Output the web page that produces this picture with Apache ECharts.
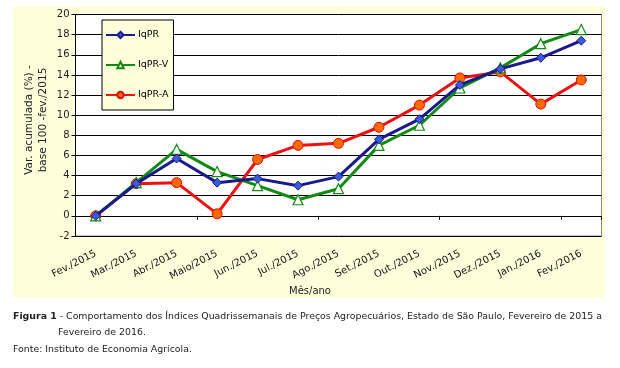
<!DOCTYPE html>
<html><head><meta charset="utf-8">
<script src="https://cdn.jsdelivr.net/npm/echarts@6/dist/echarts.min.js"></script>
<style>html,body{margin:0;padding:0;background:#fff}#c{width:620px;height:368px}</style>
</head><body><div id="c"></div>
<script>
var categories = ['Fev./2015','Mar./2015','Abr./2015','Maio/2015','Jun./2015','Jul./2015','Ago./2015','Set./2015','Out./2015','Nov./2015','Dez./2015','Jan./2016','Fev./2016'];
var iqpr  = [0, 3.2, 5.7, 3.3, 3.7, 3.0, 3.9, 7.6, 9.6, 13.0, 14.6, 15.7, 17.4];
var iqprV = [0, 3.3, 6.6, 4.4, 3.0, 1.6, 2.7, 7.0, 9.0, 12.7, 14.7, 17.1, 18.5];
var iqprA = [0, 3.2, 3.3, 0.2, 5.6, 7.0, 7.2, 8.8, 11.0, 13.7, 14.3, 11.1, 13.5];
var seriesNames = ['IqPR','IqPR-V','IqPR-A'];
var yTicks = {min: -2, max: 20, interval: 2};

var font = 'DejaVu Sans';
var chart = echarts.init(document.getElementById('c'));
chart.setOption({
  animation: false,
  backgroundColor: '#fff',
  textStyle: {fontFamily: font},
  graphic: [
    {type: 'rect', z: -10, shape: {x: 13, y: 6, width: 592, height: 292}, style: {fill: '#FFFFDC'}},
    {type: 'rect', z: -9, shape: {x: 75.5, y: 14.5, width: 526, height: 221.5}, style: {fill: '#fff', stroke: '#8a8a8a', lineWidth: 1}},
    {type: 'text', left: 13, top: 312, style: {
      text: '{b|Figura 1} - Comportamento dos Índices Quadrissemanais de Preços Agropecuários, Estado de São Paulo, Fevereiro de 2015 a',
      font: '9.4px ' + font, fill: '#222',
      rich: {b: {fontWeight: 'bold', fontSize: 9.4, fontFamily: font, fill: '#222'}}}},
    {type: 'text', left: 58, top: 328, style: {text: 'Fevereiro de 2016.', font: '9.4px ' + font, fill: '#222'}},
    {type: 'text', left: 13, top: 345, style: {text: 'Fonte: Instituto de Economia Agrícola.', font: '9.4px ' + font, fill: '#222'}},
    {type: 'text', x: 310, y: 291, style: {text: 'Mês/ano', font: '10px ' + font, fill: '#222', align: 'center', verticalAlign: 'middle'}},
    {type: 'text', x: 36, y: 120, rotation: Math.PI/2, style: {text: 'Var. acumulada (%) -\nbase 100 -fev./2015', font: '10.5px ' + font, fill: '#222', align: 'center', verticalAlign: 'middle', lineHeight: 14}}
  ],
  legend: {
    orient: 'vertical', left: 102, top: 20,
    backgroundColor: '#FFFFDC', borderColor: '#000', borderWidth: 1, borderRadius: 0,
    padding: [10, 5, 10, 3], itemGap: 20, itemWidth: 29, itemHeight: 8,
    textStyle: {fontFamily: font, fontSize: 9.5, color: '#000', padding: [0,0,0,-2]},
    data: seriesNames
  },
  grid: {left: 75.5, right: 18.5, top: 14.5, bottom: 132},
  xAxis: [{
    type: 'category', data: categories, boundaryGap: true,
    axisLine: {onZero: true, lineStyle: {color: '#000'}},
    axisTick: {show: true, inside: false, length: 4, lineStyle: {color: '#000'}},
    axisLabel: {show: false},
    splitLine: {show: false}
  }, {
    type: 'category', data: categories, boundaryGap: true, position: 'bottom',
    axisLine: {show: false, onZero: false},
    axisTick: {show: false},
    axisLabel: {rotate: 27, fontSize: 10, color: '#111', margin: 17, interval: 0, fontFamily: font},
    splitLine: {show: false}
  }],
  yAxis: {
    type: 'value', min: yTicks.min, max: yTicks.max, interval: yTicks.interval,
    axisLine: {show: true, lineStyle: {color: '#000'}},
    axisTick: {show: true, length: 4, lineStyle: {color: '#000'}},
    axisLabel: {fontSize: 10, color: '#222', margin: 6, fontFamily: font},
    splitLine: {show: true, lineStyle: {color: '#000', width: 1}}
  },
  series: [
    {name: seriesNames[0], type: 'line', data: iqpr, symbol: 'diamond', symbolSize: 9,
     lineStyle: {color: '#1a1a8c', width: 3}, itemStyle: {color: '#3b5bdb', borderColor: '#1a1a8c', borderWidth: 1}, z: 3},
    {name: seriesNames[1], type: 'line', data: iqprV, symbol: 'triangle', symbolSize: 10,
     lineStyle: {color: '#138a13', width: 3}, itemStyle: {color: '#ffffff', borderColor: '#138a13', borderWidth: 1.2}, z: 2},
    {name: seriesNames[2], type: 'line', data: iqprA, symbol: 'circle', symbolSize: 10,
     lineStyle: {color: '#ee1111', width: 3}, itemStyle: {color: '#ff6a00', borderColor: '#e01010', borderWidth: 1}, z: 1}
  ]
});
</script></body></html>
